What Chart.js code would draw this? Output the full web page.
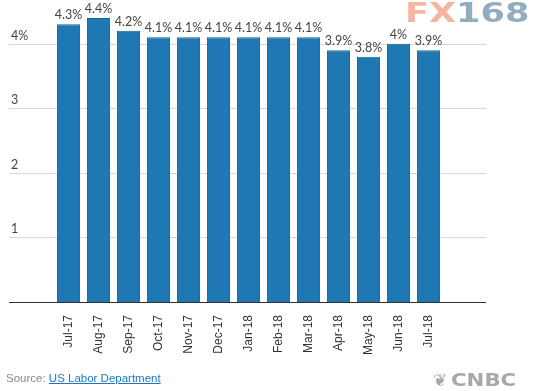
<!DOCTYPE html>
<html>
<head>
<meta charset="utf-8">
<script src="https://cdn.jsdelivr.net/npm/chart.js@4"></script>
<style>
  html, body { margin: 0; padding: 0; background: #fff; }
  #wrap { position: relative; width: 539px; height: 391px; }
  #source { position: absolute; left: 6px; top: 372px; font: 11.5px "Liberation Sans", Arial, sans-serif; color: #8a8a8a; }
  #source a { color: #1a78c2; text-decoration: underline; }
  #fx { position: absolute; left: 405px; top: -2px; font: bold 27px "DejaVu Sans", sans-serif; line-height: 30px; transform: scaleX(1.3); transform-origin: left top; white-space: nowrap; }
  #fx .a { color: #f5b5a0; }
  #fx .b { color: #93adc0; }
  #cnbc { position: absolute; left: 433px; top: 370px; font: bold 17px "DejaVu Sans", sans-serif; color: #a8a8a8; white-space: nowrap; }
  #cnbc .w { display: inline-block; transform: scaleX(1.25); transform-origin: left center; margin-left: 4px; }
</style>
</head>
<body>
<div id="wrap">
  <canvas id="chart" width="539" height="391"></canvas>
  <div id="fx"><span class="a">FX</span><span class="b">168</span></div>
  <div id="source">Source: <a>US Labor Department</a></div>
  <div id="cnbc">&#x2766;<span class="w">CNBC</span></div>
</div>
<script>
// Monthly data
const months = ['Jul-17', 'Aug-17', 'Sep-17', 'Oct-17', 'Nov-17', 'Dec-17', 'Jan-18', 'Feb-18', 'Mar-18', 'Apr-18', 'May-18', 'Jun-18', 'Jul-18'];
const rates = [4.3, 4.4, 4.2, 4.1, 4.1, 4.1, 4.1, 4.1, 4.1, 3.9, 3.8, 4.0, 3.9];
const yTicks = [1, 2, 3, 4];

// Grid lines, y labels and bottom axis line, drawn from the y scale
const gridPlugin = {
    id: 'gridPlugin',
    beforeDatasetsDraw(chart) {
        const ctx = chart.ctx;
        const yScale = chart.scales.y;
        ctx.save();
        ctx.lineWidth = 1;
        ctx.font = '12.5px Lato, "Liberation Sans", sans-serif';
        ctx.textAlign = 'left';
        ctx.textBaseline = 'alphabetic';
        yTicks.forEach((v, i) => {
            const y = Math.round(yScale.getPixelForValue(v)) + 0.5;
            ctx.strokeStyle = '#d9d9d9';
            ctx.beginPath();
            ctx.moveTo(9, y);
            ctx.lineTo(486, y);
            ctx.stroke();
            ctx.fillStyle = '#444';
            const label = i === yTicks.length - 1 ? v + '%' : String(v);
            ctx.fillText(label, 11, y - 5);
        });
        ctx.restore();
    },
    afterDatasetsDraw(chart) {
        const ctx = chart.ctx;
        const yScale = chart.scales.y;
        const y = Math.round(yScale.getPixelForValue(0)) + 0.5;
        ctx.save();
        ctx.strokeStyle = '#333';
        ctx.lineWidth = 1;
        ctx.beginPath();
        ctx.moveTo(9, y);
        ctx.lineTo(486, y);
        ctx.stroke();

        // value labels above bars
        ctx.font = '12.5px Lato, "Liberation Sans", sans-serif';
        ctx.fillStyle = '#444';
        ctx.textAlign = 'center';
        ctx.textBaseline = 'alphabetic';
        const meta = chart.getDatasetMeta(0);
        meta.data.forEach((bar, i) => {
            ctx.fillText(rates[i] + '%', bar.x, bar.y - 5);
        });
        ctx.restore();
    }
};

new Chart(document.getElementById('chart').getContext('2d'), {
    type: 'bar',
    data: {
        labels: months,
        datasets: [{
            data: rates,
            backgroundColor: '#1f77b4',
            borderColor: '#17649c',
            borderWidth: 1,
            categoryPercentage: 1,
            barPercentage: 0.77
        }]
    },
    options: {
        responsive: false,
        animation: false,
        layout: { padding: { left: 53.5, right: 95.5, top: 5, bottom: 0 } },
        plugins: {
            legend: { display: false },
            tooltip: { enabled: false }
        },
        scales: {
            y: {
                display: false,
                min: 0,
                max: 4.6
            },
            x: {
                grid: { display: false },
                border: { display: false },
                afterFit: function (scale) { scale.height = 89; },
                ticks: {
                    minRotation: 90,
                    maxRotation: 90,
                    padding: 5,
                    color: '#333',
                    font: { family: '"Liberation Sans", Arial, sans-serif', size: 12 }
                }
            }
        }
    },
    plugins: [gridPlugin]
});
</script>
</body>
</html>
